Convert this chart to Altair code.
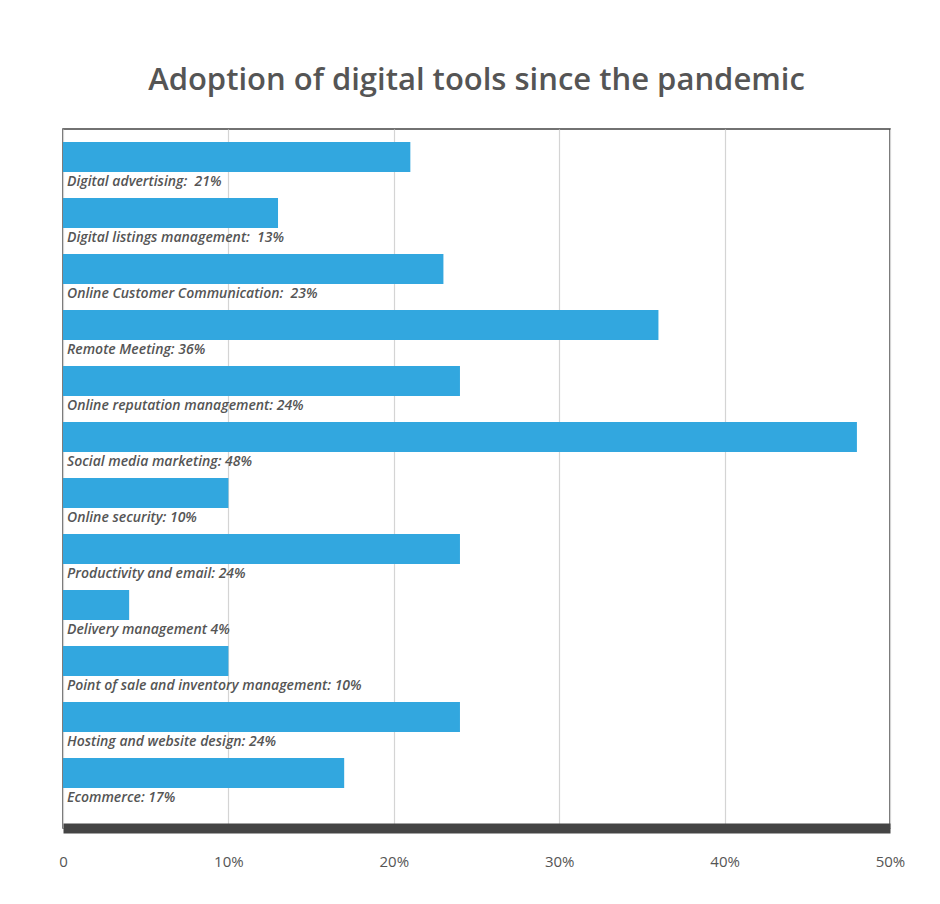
import altair as alt
import pandas as pd

labels = [
    "Digital advertising:\u00a0 21%",
    "Digital listings management:\u00a0 13%",
    "Online Customer Communication:\u00a0 23%",
    "Remote Meeting: 36%",
    "Online reputation management: 24%",
    "Social media marketing: 48%",
    "Online security: 10%",
    "Productivity and email: 24%",
    "Delivery management 4%",
    "Point of sale and inventory management: 10%",
    "Hosting and website design: 24%",
    "Ecommerce: 17%",
]
categories = [f"c{i:02d}" for i in range(len(labels))]
values = [21, 13, 23, 36, 24, 48, 10, 24, 4, 10, 24, 17]
ticks = [0, 10, 20, 30, 40, 50]

df = pd.DataFrame({"cat": categories, "value": values, "label": labels})

yscale = alt.Scale(domain=categories, paddingInner=0.464, paddingOuter=0.473, align=0.245)

bars = alt.Chart(df).mark_bar(color="#32a7df").encode(
    x=alt.X("value:Q",
            scale=alt.Scale(domain=[0, 50], nice=False),
            axis=alt.Axis(values=ticks, title=None, grid=True, gridColor="#d4d4d4",
                          gridWidth=1.2, ticks=False, domainColor="#444444",
                          domainWidth=10, labelPadding=26, labelFontSize=15,
                          labelFont="Open Sans", labelColor="#555555",
                          labelFlush=False, labelOverlap=False,
                          labelExpr="datum.value == 0 ? '0' : datum.value + '%'")),
    y=alt.Y("cat:N", scale=yscale, axis=None, sort=categories),
)

texts = alt.Chart(df).mark_text(
    align="left", baseline="middle", dy=25, font="Open Sans", fontStyle="italic",
    fontWeight=600, fontSize=14, color="#555555"
).encode(
    x=alt.value(4),
    y=alt.Y("cat:N", scale=yscale, axis=None, sort=categories),
    text="label:N",
)

chart = (bars + texts).properties(
    width=827, height=699,
    background="white",
    title=alt.TitleParams("Adoption of digital tools since the pandemic",
                          font="Open Sans", fontSize=31, fontWeight=600, color="#555555",
                          anchor="middle", offset=32),
    autosize=alt.AutoSizeParams(type="none"),
    padding={"left": 55, "top": 121, "right": 40, "bottom": 60},
).configure_view(stroke="#444444", strokeWidth=1.5)

chart.save("out.html", embed_options={"renderer": "svg", "actions": False})
